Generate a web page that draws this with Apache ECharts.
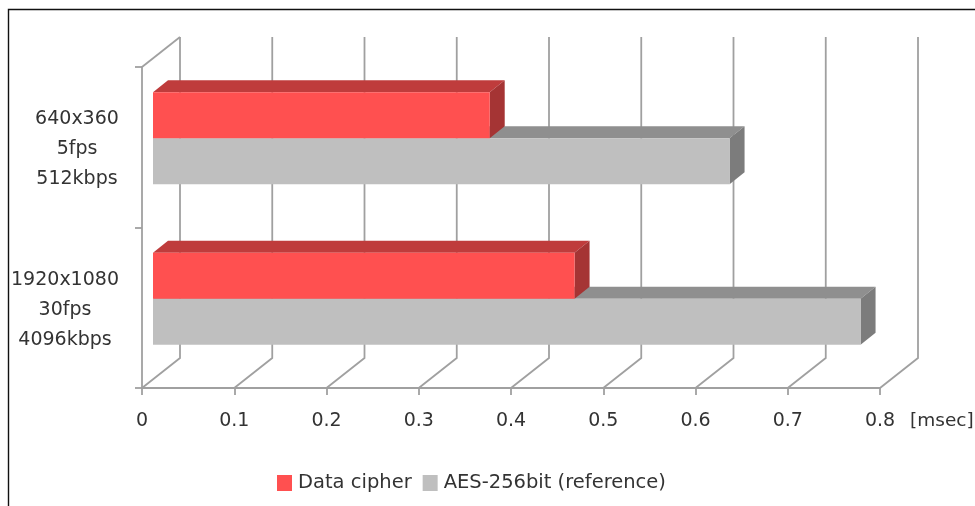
<!DOCTYPE html>
<html>
<head>
<meta charset="utf-8">
<style>html,body{margin:0;padding:0;background:#fff}#c{width:975px;height:506px}</style>
<script src="https://cdn.jsdelivr.net/npm/echarts@6/dist/echarts.min.js"></script>
</head>
<body>
<div id="c"></div>
<script>
const categories = ['640x360\n5fps\n512kbps', '1920x1080\n30fps\n4096kbps'];
const seriesNames = ['Data cipher', 'AES-256bit (reference)'];
const dataCipher = [0.365, 0.457];
const aes256 = [0.625, 0.767];
const ticks = [0, 0.1, 0.2, 0.3, 0.4, 0.5, 0.6, 0.7, 0.8];

const FONT = '"DejaVu Sans"';
const TEXT = '#333333';
const AXIS = '#a0a0a0';
const WALL = {dx: 38, dy: -30};
const FRONT = {dx: 11, dy: -9};
const BAR = {dx: 15, dy: -12, frac: 0.2866};

function barRender(slot, colors) {
  return function (params, api) {
    const idx = api.value(1);
    const a = api.coord([0, idx]);
    const b = api.coord([api.value(0), idx]);
    const h = api.size([0, 1])[1] * BAR.frac;
    const x0 = a[0] + FRONT.dx, x1 = b[0] + FRONT.dx;
    const y0 = a[1] + FRONT.dy + (slot === 0 ? -h : 0), y1 = y0 + h;
    const poly = (pts, fill) => ({type: 'polygon', shape: {points: pts}, style: {fill: fill}});
    return {type: 'group', children: [
      poly([[x0, y0], [x0 + BAR.dx, y0 + BAR.dy], [x1 + BAR.dx, y0 + BAR.dy], [x1, y0]], colors.top),
      poly([[x1, y0], [x1 + BAR.dx, y0 + BAR.dy], [x1 + BAR.dx, y1 + BAR.dy], [x1, y1]], colors.side),
      poly([[x0, y0], [x1, y0], [x1, y1], [x0, y1]], colors.front)
    ]};
  };
}

function wallRender(params, api) {
  const v = api.value(0);
  const cs = params.coordSys;
  const x = api.coord([v, 0])[0];
  const bottom = cs.y + cs.height, top = cs.y;
  const style = {stroke: AXIS, lineWidth: 1.8, fill: null};
  const children = [{type: 'polyline', shape: {points: [
    [x, bottom], [x + WALL.dx, bottom + WALL.dy], [x + WALL.dx, top + WALL.dy]
  ]}, style: style}];
  if (v === 0) {
    children.push({type: 'polyline', shape: {points: [[x, top], [x + WALL.dx, top + WALL.dy]]}, style: style});
  }
  return {type: 'group', children: children};
}

const chart = echarts.init(document.getElementById('c'), null, {renderer: 'canvas'});
chart.setOption({
  animation: false,
  backgroundColor: '#ffffff',
  grid: {left: 142, right: 95, top: 67, bottom: 118, containLabel: false, outerBoundsMode: 'none'},
  legend: {
    data: seriesNames, left: 277, top: 473, padding: 0, itemWidth: 15, itemHeight: 16, itemGap: 11,
    icon: 'rect', textStyle: {fontFamily: FONT, fontSize: 19.5, color: TEXT, padding: [0, 0, 0, 1]}
  },
  xAxis: {
    type: 'value', min: 0, max: 0.8, interval: 0.1,
    name: '[msec]', nameLocation: 'end', nameGap: 30,
    nameTextStyle: {fontFamily: FONT, fontSize: 18.5, color: TEXT, align: 'left', verticalAlign: 'top', padding: [24, 0, 0, 0]},
    axisLine: {show: true, lineStyle: {color: AXIS, width: 1.8}},
    axisTick: {show: true, length: 7, lineStyle: {color: AXIS, width: 1.8}},
    axisLabel: {show: true, margin: 24, fontFamily: FONT, fontSize: 19, color: TEXT,
      customValues: ticks, formatter: v => String(v)},
    splitLine: {show: false}
  },
  yAxis: {
    type: 'category', inverse: true, data: categories,
    axisLine: {show: true, lineStyle: {color: AXIS, width: 1.8}},
    axisTick: {show: true, length: 7, lineStyle: {color: AXIS, width: 1.8}},
    axisLabel: {
      show: true, margin: 22, color: TEXT, fontFamily: FONT, fontSize: 19, padding: [4, 0, 0, 0],
      formatter: (v, i) => v.split('\n').map(s => '{b' + i + '|' + s + '}').join('\n'),
      rich: {
        b0: {width: 86, align: 'center', lineHeight: 30, fontFamily: FONT, fontSize: 19, color: TEXT},
        b1: {width: 110, align: 'center', lineHeight: 30, fontFamily: FONT, fontSize: 19, color: TEXT}
      }
    },
    splitLine: {show: false}
  },
  tooltip: {show: false},
  series: [
    {type: 'custom', name: 'walls', silent: true, z: 1, coordinateSystem: 'cartesian2d',
      data: ticks.map(v => [v, 0]), encode: {x: 0, y: 1}, renderItem: wallRender},
    {type: 'custom', name: seriesNames[1], z: 3, itemStyle: {color: '#bfbfbf'},
      data: aes256.map((v, i) => [v, i]), encode: {x: 0, y: 1},
      renderItem: barRender(1, {front: '#bfbfbf', top: '#8f8f8f', side: '#7c7c7c'})},
    {type: 'custom', name: seriesNames[0], z: 4, itemStyle: {color: '#ff5050'},
      data: dataCipher.map((v, i) => [v, i]), encode: {x: 0, y: 1},
      renderItem: barRender(0, {front: '#ff5050', top: '#bf3c3c', side: '#a53434'})}
  ],
  graphic: [{
    type: 'polyline', silent: true, z: 10,
    shape: {points: [[8.5, 506], [8.5, 9.5], [975, 9.5]]},
    style: {stroke: '#111111', lineWidth: 1.4, fill: null}
  }]
});
</script>
</body>
</html>
